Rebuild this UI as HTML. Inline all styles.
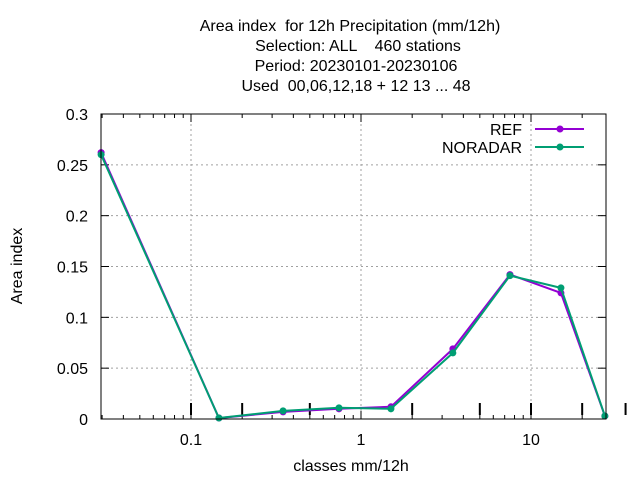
<!DOCTYPE html>
<html><head><meta charset="utf-8"><style>
html,body{margin:0;padding:0;background:#fff;}
svg{display:block;font-family:"Liberation Sans","DejaVu Sans",sans-serif;}
text{white-space:pre;}
</style></head><body>
<svg id="chart" width="640" height="480" viewBox="0 0 640 480">
<g id="title" font-size="16" text-anchor="middle" fill="#000">
<text x="350" y="31" xml:space="preserve">Area index  for 12h Precipitation (mm/12h)</text>
<text x="358" y="51" xml:space="preserve">Selection: ALL    460 stations</text>
<text x="356" y="71" xml:space="preserve">Period: 20230101-20230106</text>
<text x="356" y="91" xml:space="preserve">Used  00,06,12,18 + 12 13 ... 48</text>
</g>
<g id="grid"></g>
<g id="axes"></g>
<g id="series"></g>
<rect x="101" y="114" width="505" height="305" fill="none" stroke="#000" stroke-width="1"/>
<text x="22" y="266" font-size="16" text-anchor="middle" transform="rotate(-90 22 266)">Area index</text>
<text x="351" y="471" font-size="16" text-anchor="middle">classes mm/12h</text>
<g id="legend"></g>
</svg>
<script>
const xValues = [0.0296, 0.146, 0.348, 0.742, 1.5, 3.47, 7.52, 15.0, 27.2];
const refValues = [0.262, 0.001, 0.007, 0.010, 0.012, 0.069, 0.142, 0.124, 0.003];
const noradarValues = [0.260, 0.001, 0.008, 0.011, 0.010, 0.065, 0.141, 0.129, 0.003];
const yTicks = [0, 0.05, 0.1, 0.15, 0.2, 0.25, 0.3];
const yTickLabels = ["0", "0.05", "0.1", "0.15", "0.2", "0.25", "0.3"];
const xTicks = [0.1, 1, 10];
const xTickLabels = ["0.1", "1", "10"];
const seriesNames = ["REF", "NORADAR"];

const NS = "http://www.w3.org/2000/svg";
const L = 101, R = 606, T = 114, B = 419;
function xs(v){ return 361 + 170 * Math.log10(v); }
function ys(v){ return B - (v / 0.3) * (B - T); }
function mk(tag, attrs, parent){ const e = document.createElementNS(NS, tag); for (const k in attrs) e.setAttribute(k, attrs[k]); parent.appendChild(e); return e; }
const grid = document.getElementById('grid'), axes = document.getElementById('axes'), series = document.getElementById('series'), legend = document.getElementById('legend');

yTicks.forEach((v, i) => {
  const y = ys(v);
  if (v > 0 && v < 0.3) {
    const g = mk('line', {x1: L, x2: R, y1: y, y2: y, stroke: '#a0a0a0', 'stroke-dasharray': '2,3'}, grid);
    
    
  }
  mk('line', {x1: L, x2: L + 8, y1: y, y2: y, stroke: '#000'}, axes);
  mk('line', {x1: R, x2: R - 8, y1: y, y2: y, stroke: '#000'}, axes);
  const t = mk('text', {x: 88, y: y + 6, 'font-size': 16, 'text-anchor': 'end'}, axes);
  t.textContent = yTickLabels[i];
  
  
});
xTicks.forEach((v, i) => {
  const x = xs(v);
  const g = mk('line', {x1: x, x2: x, y1: T, y2: B, stroke: '#a0a0a0', 'stroke-dasharray': '2,3'}, grid);
  
  
  const t = mk('text', {x: x, y: 445, 'font-size': 16, 'text-anchor': 'middle'}, axes);
  t.textContent = xTickLabels[i];
  
  
});
for (let d = -2; d <= 1; d++) {
  for (let m = 1; m <= 9; m++) {
    const v = m * Math.pow(10, d);
    const x = xs(v);
    if (x < L || x > R) continue;
    const len = m === 1 ? 8 : 4;
    mk('line', {x1: x, x2: x, y1: B, y2: B - len, stroke: '#000'}, axes);
    mk('line', {x1: x, x2: x, y1: T, y2: T + len, stroke: '#000'}, axes);
  }
}
[0.1, 0.2, 0.5, 2, 5, 10, 20, 36].forEach(v => {
  const x = xs(v);
  mk('line', {x1: x, x2: x, y1: 403, y2: 415, stroke: '#000', 'stroke-width': 2}, axes);
});

const colors = ['#9400d3', '#009e73'];
[refValues, noradarValues].forEach((vals, si) => {
  const pts = vals.map((v, i) => xs(xValues[i]).toFixed(1) + ',' + ys(v).toFixed(1)).join(' ');
  const pl = mk('polyline', {points: pts, fill: 'none', stroke: colors[si], 'stroke-width': 2}, series);
  
  
  vals.forEach((v, i) => {
    const c = mk('circle', {cx: xs(xValues[i]), cy: ys(v), r: 3.5, fill: colors[si]}, series);
    
    
  });
  const ly = 129 + si * 18;
  const lt = mk('text', {x: 522, y: ly + 6, 'font-size': 16, 'text-anchor': 'end'}, legend);
  lt.textContent = seriesNames[si];
  
  
  const ll = mk('line', {x1: 535, x2: 584, y1: ly, y2: ly, stroke: colors[si], 'stroke-width': 2}, legend);
  
  
  mk('circle', {cx: 560, cy: ly, r: 3.5, fill: colors[si]}, legend);
});
</script>
</body></html>
